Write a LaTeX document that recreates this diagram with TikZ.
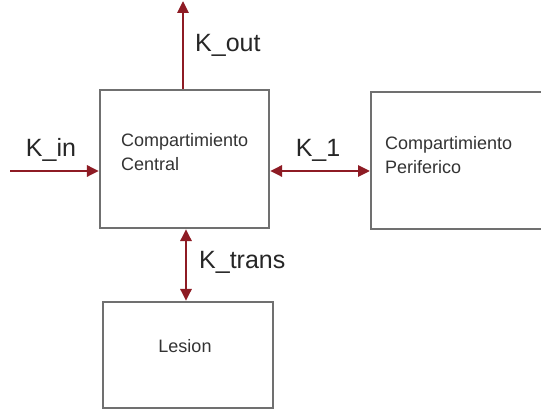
\documentclass[tikz,border=0pt]{standalone}
\usepackage{fontspec}
\setmainfont{Liberation Sans}
\usetikzlibrary{arrows.meta}
\definecolor{flowred}{HTML}{8E1B24}
\definecolor{boxgray}{HTML}{707070}
\tikzset{
  compbox/.style={draw=boxgray, line width=2.2pt, fill=white, inner sep=0pt},
  boxtext/.style={font=\fontsize{18}{24}\selectfont, text=black!80, align=left, inner sep=0pt},
  ratelabel/.style={font=\fontsize{25}{27}\selectfont, text=black!85, inner sep=0pt},
  flow/.style={draw=flowred, line width=2.8pt, -{Triangle[length=12pt,width=11pt]}},
  flowboth/.style={draw=flowred, line width=2.8pt, {Triangle[length=12pt,width=11pt]}-{Triangle[length=12pt,width=11pt]}}
}
\begin{document}
\begin{tikzpicture}[x=1pt,y=-1pt]
  \clip (0,0) rectangle (541,411);
  \fill[white] (0,0) rectangle (541,411);

  % compartments
  \node[compbox, minimum width=169pt, minimum height=138pt] (central) at (184.5,159) {};
  \node[compbox, minimum width=200pt, minimum height=137pt, anchor=north west] (periph) at (370,91) {};
  \node[compbox, minimum width=170pt, minimum height=106pt] (lesion) at (188,355) {};

  % compartment names
  \node[boxtext, anchor=west] (centraltext) at (121,152) {Compartimiento\\Central};
  \node[boxtext, anchor=west] (periphtext) at (385,155) {Compartimiento\\Periferico};
  \node[boxtext] (lesiontext) at (185,346) {Lesion};

  % free ends of the open flows
  \coordinate (outend) at (183,1);
  \coordinate (instart) at (10,171);
  \coordinate (exchange) at (0,171);
  \coordinate (transx) at (186,0);

  % flows
  \draw[flow] (central.north -| outend) -- (outend);
  \draw[flow] (instart) -- (central.west |- instart);
  \draw[flowboth] (central.east |- exchange) -- (periph.west |- exchange);
  \draw[flowboth] (central.south -| transx) -- (lesion.north -| transx);

  % rate constants
  \node[ratelabel, anchor=west] (koutlabel) at (195,45) {K\_out};
  \node[ratelabel] (kinlabel) at (51,150) {K\_in};
  \node[ratelabel] (k1label) at (318,150) {K\_1};
  \node[ratelabel, anchor=west] (ktranslabel) at (199,262) {K\_trans};
\end{tikzpicture}
\end{document}
